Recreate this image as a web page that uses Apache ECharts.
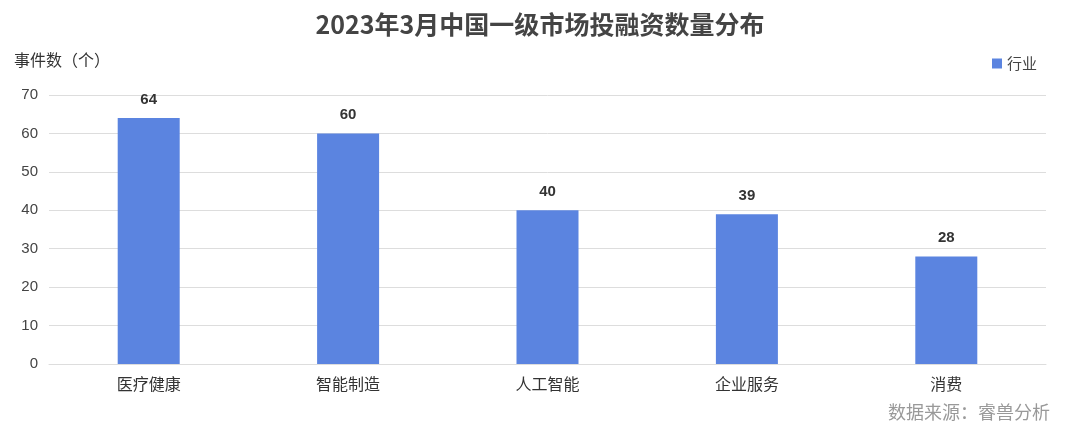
<!DOCTYPE html>
<html>
<head>
<meta charset="utf-8">
<script src="https://cdn.jsdelivr.net/npm/echarts@6/dist/echarts.min.js"></script>
<style>
html,body{margin:0;padding:0;background:#fff;}
#c{width:1080px;height:436px;}
</style>
</head>
<body>
<div id="c"></div>
<script>
const categories = ['医疗健康', '智能制造', '人工智能', '企业服务', '消费'];
const values = [64, 60, 40, 39, 28];
const seriesName = '行业';
const yTicks = { min: 0, max: 70, interval: 10 };

const chart = echarts.init(document.getElementById('c'));
const font = '"Noto Sans CJK SC", "Noto Sans", sans-serif';
chart.setOption({
  backgroundColor: '#fff',
  animation: false,
  title: {
    text: '2023年3月中国一级市场投融资数量分布',
    left: 'center', top: 7,
    textStyle: { fontFamily: font, fontSize: 25, fontWeight: 'bold', color: '#444' }
  },
  legend: {
    data: [seriesName], right: 38, top: 51,
    icon: 'rect', itemWidth: 10, itemHeight: 10, itemGap: 4,
    textStyle: { fontFamily: font, fontSize: 15, color: '#444' }
  },
  graphic: [
    { type: 'text', left: 14, top: 52, style: { text: '事件数（个）', font: '16px ' + font, fill: '#333' } },
    { type: 'text', right: 30, top: 403, style: { text: '数据来源：睿兽分析', font: '18px ' + font, fill: '#999' } }
  ],
  grid: { left: 49, right: 34, top: 95, bottom: 72 },
  xAxis: {
    type: 'category', data: categories,
    axisLine: { lineStyle: { color: '#ddd' } },
    axisTick: { show: false },
    axisLabel: { fontFamily: font, fontSize: 16, color: '#333', margin: 12 }
  },
  yAxis: {
    type: 'value', min: yTicks.min, max: yTicks.max, interval: yTicks.interval,
    axisLine: { show: false }, axisTick: { show: false },
    splitLine: { lineStyle: { color: '#ddd', width: 1 } },
    axisLabel: { fontFamily: 'Arial, "Liberation Sans", sans-serif', fontSize: 15, color: '#444', margin: 11 }
  },
  series: [{
    name: seriesName, type: 'bar', data: values, barWidth: 62,
    itemStyle: { color: '#5b84e0' },
    label: { show: true, position: 'top', distance: 11, fontFamily: 'Arial, "Liberation Sans", sans-serif', fontSize: 15, fontWeight: 'bold', color: '#333' }
  }]
});
</script>
</body>
</html>
